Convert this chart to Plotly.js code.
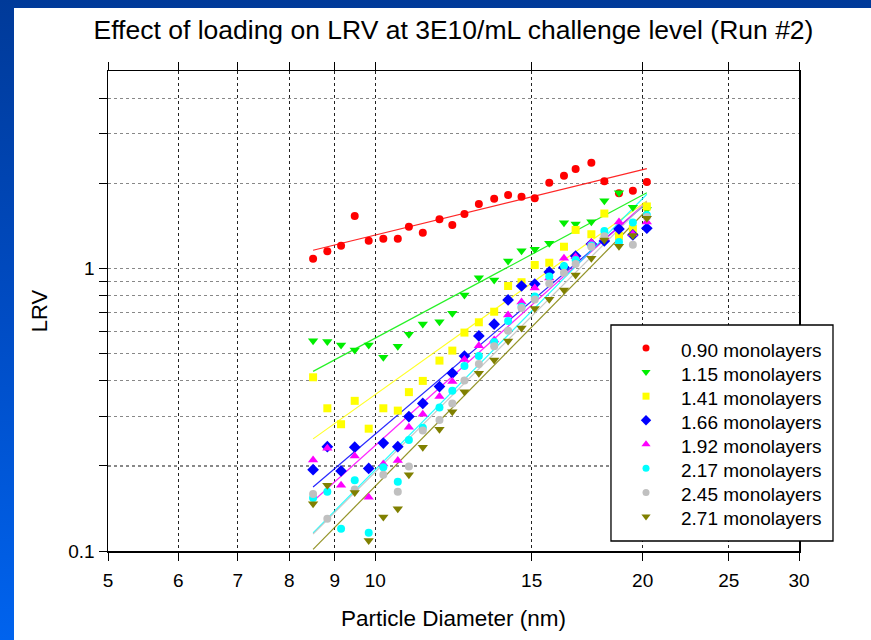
<!DOCTYPE html>
<html>
<head>
<meta charset="utf-8">
<script src="https://cdn.plot.ly/plotly-3.0.1.min.js"></script>
<style>
  html, body { margin: 0; padding: 0; width: 871px; height: 640px; overflow: hidden;
    background: linear-gradient(to bottom, #003a99 0%, #004cc4 50%, #0063ee 100%); }
  #chart { position: absolute; left: 14px; top: 8px; width: 857px; height: 632px; background: #ffffff; }
</style>
</head>
<body>
<div id="chart"></div>
<script>
// Particle diameters (nm)
const diameter = [8.51, 8.83, 9.15, 9.48, 9.83, 10.21, 10.60, 10.91, 11.31, 11.81, 12.21, 12.60, 13.08,
                  13.61, 14.11, 14.61, 15.12, 15.70, 16.31, 16.81, 17.51, 18.11, 18.81, 19.50, 20.22];

// LRV per loading level
const lrv090 = [1.083, 1.150, 1.204, 1.534, 1.254, 1.275, 1.275, 1.406, 1.339, 1.494, 1.426, 1.559, 1.692,
                1.766, 1.820, 1.796, 1.772, 2.013, 2.131, 2.250, 2.368, 2.035, 1.846, 1.885, 2.024];
const lrv115 = [0.555, 0.552, 0.536, 0.515, 0.536, 0.485, 0.530, 0.585, 0.636, 0.648, 0.694, 0.806, 0.928,
                0.911, 1.063, 1.156, 1.169, 1.228, 1.453, 1.437, 1.464, 1.738, 1.855, 1.647, 1.618];
const lrv141 = [0.412, 0.320, 0.281, 0.340, 0.271, 0.320, 0.314, 0.365, 0.400, 0.472, 0.512, 0.593, 0.645,
                0.703, 0.867, 0.894, 1.029, 1.048, 1.194, 1.369, 1.322, 1.565, 1.303, 1.380, 1.658];
const lrv166 = [0.194, 0.234, 0.192, 0.233, 0.196, 0.241, 0.234, 0.299, 0.333, 0.382, 0.426, 0.490, 0.577,
                0.635, 0.774, 0.867, 0.881, 0.972, 1.007, 1.107, 1.221, 1.251, 1.380, 1.314, 1.388];
const lrv192 = [0.210, 0.231, 0.171, 0.217, 0.155, 0.203, 0.209, 0.274, 0.305, 0.352, 0.398, 0.476, 0.533,
                0.558, 0.685, 0.761, 0.853, 0.926, 1.087, 1.101, 1.236, 1.282, 1.461, 1.325, 1.461];
const lrv217 = [0.154, 0.162, 0.120, 0.178, 0.116, 0.198, 0.176, 0.247, 0.273, 0.322, 0.369, 0.452, 0.490,
                0.549, 0.652, 0.732, 0.795, 0.937, 1.021, 1.072, 1.206, 1.357, 1.241, 1.455, 1.546];
const lrv245 = [0.159, 0.130, null, 0.165, null, 0.186, 0.162, 0.199, 0.267, 0.291, 0.333, 0.401, 0.459,
                0.531, 0.602, 0.725, 0.776, 0.884, 0.966, 1.037, 1.194, 1.300, null, 1.214, 1.521];
const lrv271 = [0.147, 0.171, null, 0.161, 0.109, 0.132, 0.141, 0.186, 0.233, 0.270, 0.311, 0.366, 0.426,
                0.474, 0.554, 0.616, 0.721, 0.778, 0.839, 0.948, 1.087, 1.262, 1.198, 1.309, 1.505];

const seriesNames = ['0.90 monolayers', '1.15 monolayers', '1.41 monolayers', '1.66 monolayers',
                     '1.92 monolayers', '2.17 monolayers', '2.45 monolayers', '2.71 monolayers'];
const seriesValues = [lrv090, lrv115, lrv141, lrv166, lrv192, lrv217, lrv245, lrv271];

const colors  = ['#ff0000', '#00ee00', '#ffff00', '#0000ff', '#ff00ff', '#00ffff', '#c0c0c0', '#808000'];
const symbols = ['circle', 'triangle-down', 'square', 'diamond', 'triangle-up', 'circle', 'circle', 'triangle-down'];
const sizes   = [8, 9, 8, 9, 9, 8, 8, 9];

const xTicks = [5, 6, 7, 8, 9, 10, 15, 20, 25, 30];
const yTicks = [0.1, 0.2, 0.3, 0.4, 0.5, 0.6, 0.7, 0.8, 0.9, 1, 2, 3, 4];
const yTickText = ['0.1', '', '', '', '', '', '', '', '', '1', '', '', ''];

// Power-law (log-log least squares) fit drawn across the measured diameter range
function powerFit(xs, ys) {
  const px = [], py = [];
  xs.forEach((x, i) => { if (ys[i] != null) { px.push(Math.log10(x)); py.push(Math.log10(ys[i])); } });
  const n = px.length;
  const mx = px.reduce((a, b) => a + b, 0) / n, my = py.reduce((a, b) => a + b, 0) / n;
  let sxy = 0, sxx = 0;
  for (let i = 0; i < n; i++) { sxy += (px[i] - mx) * (py[i] - my); sxx += (px[i] - mx) ** 2; }
  const b = sxy / sxx, a = my - b * mx;
  const xEnds = [xs[0], xs[xs.length - 1]];
  return { x: xEnds, y: xEnds.map(x => Math.pow(10, a + b * Math.log10(x))) };
}

const traces = [];
seriesValues.forEach((vals, i) => {
  const f = powerFit(diameter, vals);
  traces.push({ x: f.x, y: f.y, type: 'scatter', mode: 'lines', name: seriesNames[i] + ' fit',
                showlegend: false, hoverinfo: 'skip', opacity: 0.85,
                line: { color: colors[i], width: 1.2 } });
});
seriesValues.forEach((vals, i) => {
  traces.push({ x: diameter, y: vals, type: 'scatter', mode: 'markers', name: seriesNames[i], showlegend: false,
                marker: { color: colors[i], symbol: symbols[i], size: sizes[i], line: { width: 0 } } });
});
// Legend symbol entries (labels are drawn as annotations so they can keep the reference font size)
seriesValues.forEach((vals, i) => {
  traces.push({ x: [null], y: [null], type: 'scatter', mode: 'markers', name: '', showlegend: true,
                hoverinfo: 'skip',
                marker: { color: colors[i], symbol: symbols[i], size: sizes[i] - 1, line: { width: 0 } } });
});

// ---- Legend: white framed box (shape on top of the plot), Plotly legend symbols, text labels
const fontFam = '"Liberation Sans", Arial, sans-serif';
const legBox = { x0: 0.7279, x1: 1.0492, y0: 0.0208, y1: 0.4708 };
const legRowTop = 0.41875, legRowStep = 24.06 / 480, legTextX = 0.8263;
const annotations = seriesNames.map((name, i) => ({
  text: name, xref: 'paper', yref: 'paper', x: legTextX, y: legRowTop - i * legRowStep,
  xanchor: 'left', yanchor: 'middle', showarrow: false,
  font: { size: 19, family: fontFam, color: '#000' }
}));

const layout = {
  width: 857, height: 632,
  margin: { l: 94, r: 72, t: 63, b: 89 },
  paper_bgcolor: '#ffffff', plot_bgcolor: '#ffffff',
  font: { family: fontFam, color: '#000000' },
  title: { text: 'Effect of loading on LRV at 3E10/mL challenge level (Run #2)',
           font: { size: 26.5, family: fontFam, color: '#000000' },
           x: 0.5, xref: 'paper', xanchor: 'center', y: 0.965, yref: 'container', yanchor: 'middle' },
  xaxis: {
    type: 'log', range: [Math.log10(5), Math.log10(30)],
    tickmode: 'array', tickvals: xTicks, ticktext: xTicks.map(String),
    ticks: 'outside', ticklen: 8, tickcolor: '#000', tickfont: { size: 19 },
    showline: true, linecolor: '#000', linewidth: 1.5, mirror: 'ticks',
    showgrid: true, gridcolor: '#222', griddash: 'dot', gridwidth: 1.2,
    zeroline: false, ticklabelstandoff: 4,
    title: { text: 'Particle Diameter (nm)', font: { size: 22.5 }, standoff: 20 }
  },
  yaxis: {
    type: 'log', range: [-1, Math.log10(5)],
    tickmode: 'array', tickvals: yTicks, ticktext: yTickText,
    ticks: 'outside', ticklen: 8, tickcolor: '#000', tickfont: { size: 19 },
    showline: true, linecolor: '#000', linewidth: 1.5, mirror: true,
    showgrid: true, gridcolor: '#888', griddash: 'dot', gridwidth: 1.2,
    zeroline: false,
    title: { text: 'LRV', font: { size: 22 }, standoff: 14 }
  },
  shapes: [{ type: 'rect', xref: 'paper', yref: 'paper', layer: 'above',
             x0: legBox.x0, x1: legBox.x1, y0: legBox.y0, y1: legBox.y1,
             fillcolor: '#ffffff', line: { color: '#000000', width: 1.3 } }],
  legend: {
    x: 0.7294, y: 0.4583, xanchor: 'left', yanchor: 'top',
    bgcolor: 'rgba(0,0,0,0)', borderwidth: 0,
    font: { size: 16.2, family: fontFam, color: 'rgba(0,0,0,0)' },
    itemwidth: 58
  },
  annotations: annotations,
  showlegend: true
};

Plotly.newPlot('chart', traces, layout, { displayModeBar: false, staticPlot: true });
</script>
</body>
</html>
